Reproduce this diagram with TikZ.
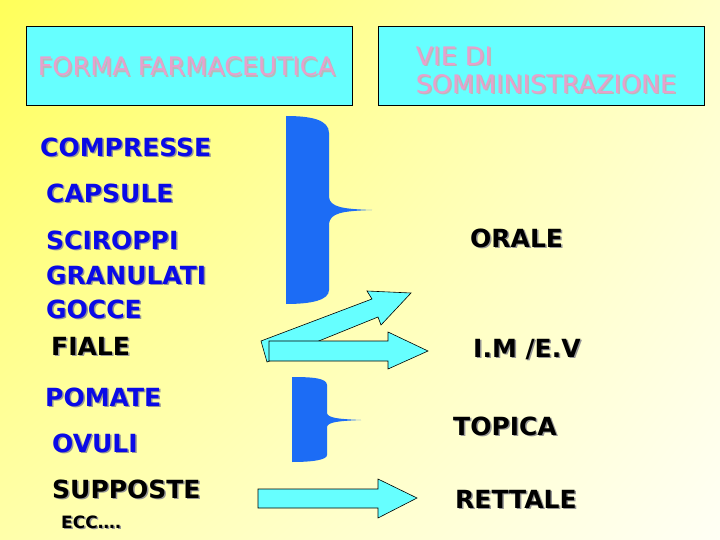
\documentclass[tikz,border=0pt]{standalone}
\usepackage{fontspec}
\setmainfont{DejaVu Sans}
\usetikzlibrary{positioning,shadings}
\definecolor{bgul}{RGB}{255,255,90}
\definecolor{bgur}{RGB}{255,255,200}
\definecolor{bgll}{RGB}{255,255,170}
\definecolor{bglr}{RGB}{255,255,245}
\definecolor{boxcyan}{RGB}{102,255,255}
\definecolor{titpink}{RGB}{232,160,205}
\definecolor{lblblue}{RGB}{10,10,230}
\definecolor{brcblue}{RGB}{28,108,245}
\definecolor{shdgray}{RGB}{150,150,150}
\definecolor{shdlight}{RGB}{185,185,185}
\newcommand{\shtxt}[2][shdgray]{\makebox[0pt][l]{\hspace{1.5pt}\raisebox{-1.5pt}{\color{#1}#2}}#2}

\begin{document}
\begin{tikzpicture}[x=1pt,y=-1pt,
  box/.style={draw=black,fill=boxcyan,minimum width=326pt,minimum height=79pt,inner sep=0pt,line width=0.8pt},
  ttl/.style={text=titpink,font=\fontsize{25.5}{28}\selectfont,inner sep=0pt,align=left,anchor=west},
  lbl/.style={font=\bfseries\fontsize{25}{30}\selectfont,inner sep=0pt,anchor=west},
  brc/.style={fill=brcblue},
  arw/.style={draw=black,fill=boxcyan,line width=0.6pt,line join=miter}]
\useasboundingbox (0,0) rectangle (720,540);
\shade[upper left=bgul,upper right=bgur,lower left=bgll,lower right=bglr] (0,0) rectangle (720,540);

% title boxes
\node[box] (formabox) at (189,65.5) {};
\node[box] (viebox) at (541,65.5) {};
\node[ttl] (forma) at ([xshift=12pt,yshift=-1.5pt]formabox.west) {\shtxt[shdlight]{FORMA FARMACEUTICA}};
\node[ttl] (vie) at ([xshift=38pt,yshift=-5.5pt]viebox.west) {\shtxt[shdlight]{VIE DI}\\\shtxt[shdlight]{SOMMINISTRAZIONE}};

% forme farmaceutiche
\foreach \n/\x/\y/\t/\c in {1/40/148/COMPRESSE/lblblue,2/46/194/CAPSULE/lblblue,
  3/46/241/SCIROPPI/lblblue,4/46/276/GRANULATI/lblblue,5/46/310/GOCCE/lblblue,
  6/51/347/FIALE/black,7/45/398/POMATE/lblblue,8/52/444/OVULI/lblblue,
  9/52/490/SUPPOSTE/black} {
   \node[lbl,text=\c] (ff\n) at (\x,\y) {\shtxt{\t}};
}
\node[lbl,font=\bfseries\fontsize{17}{20}\selectfont] (ecc) at (61,523) {\shtxt{ECC….}};

% vie
\node[lbl] (orale) at (470,239) {\shtxt{ORALE}};
\node[lbl] (imev) at (473,350) {\shtxt{I.M /E.V}};
\node[lbl] (topica) at (453,427) {\shtxt{TOPICA}};
\node[lbl] (rettale) at (455,500) {\shtxt{RETTALE}};

% graffe
\fill[brc] (286,116) .. controls (312,116) and (329,120) .. (329,133) -- (329,197)
   .. controls (330,207) and (342,209) .. (372,210) .. controls (342,211) and (330,213) .. (329,224)
   -- (329,290) .. controls (329,300) and (312,304) .. (286,304) -- cycle;
\fill[brc] (292,377) .. controls (312,377) and (327,378) .. (327,385) -- (327,413)
   .. controls (328,418) and (338,419) .. (361,420) .. controls (338,421) and (328,422) .. (327,427)
   -- (327,455) .. controls (327,460) and (312,462) .. (292,462) -- cycle;

% frecce
\draw[arw] (261,341) -- (372,299) -- (367,291) -- (411,293) -- (381,325) -- (378,317) -- (267,362) -- cycle;
\draw[arw] (269,341) -- (388,341) -- (388,332) -- (428,351) -- (388,369) -- (388,361) -- (269,361) -- cycle;
\draw[arw] (258,489) -- (378,489) -- (378,479) -- (417,498) -- (378,518) -- (378,508) -- (258,508) -- cycle;
\end{tikzpicture}
\end{document}
